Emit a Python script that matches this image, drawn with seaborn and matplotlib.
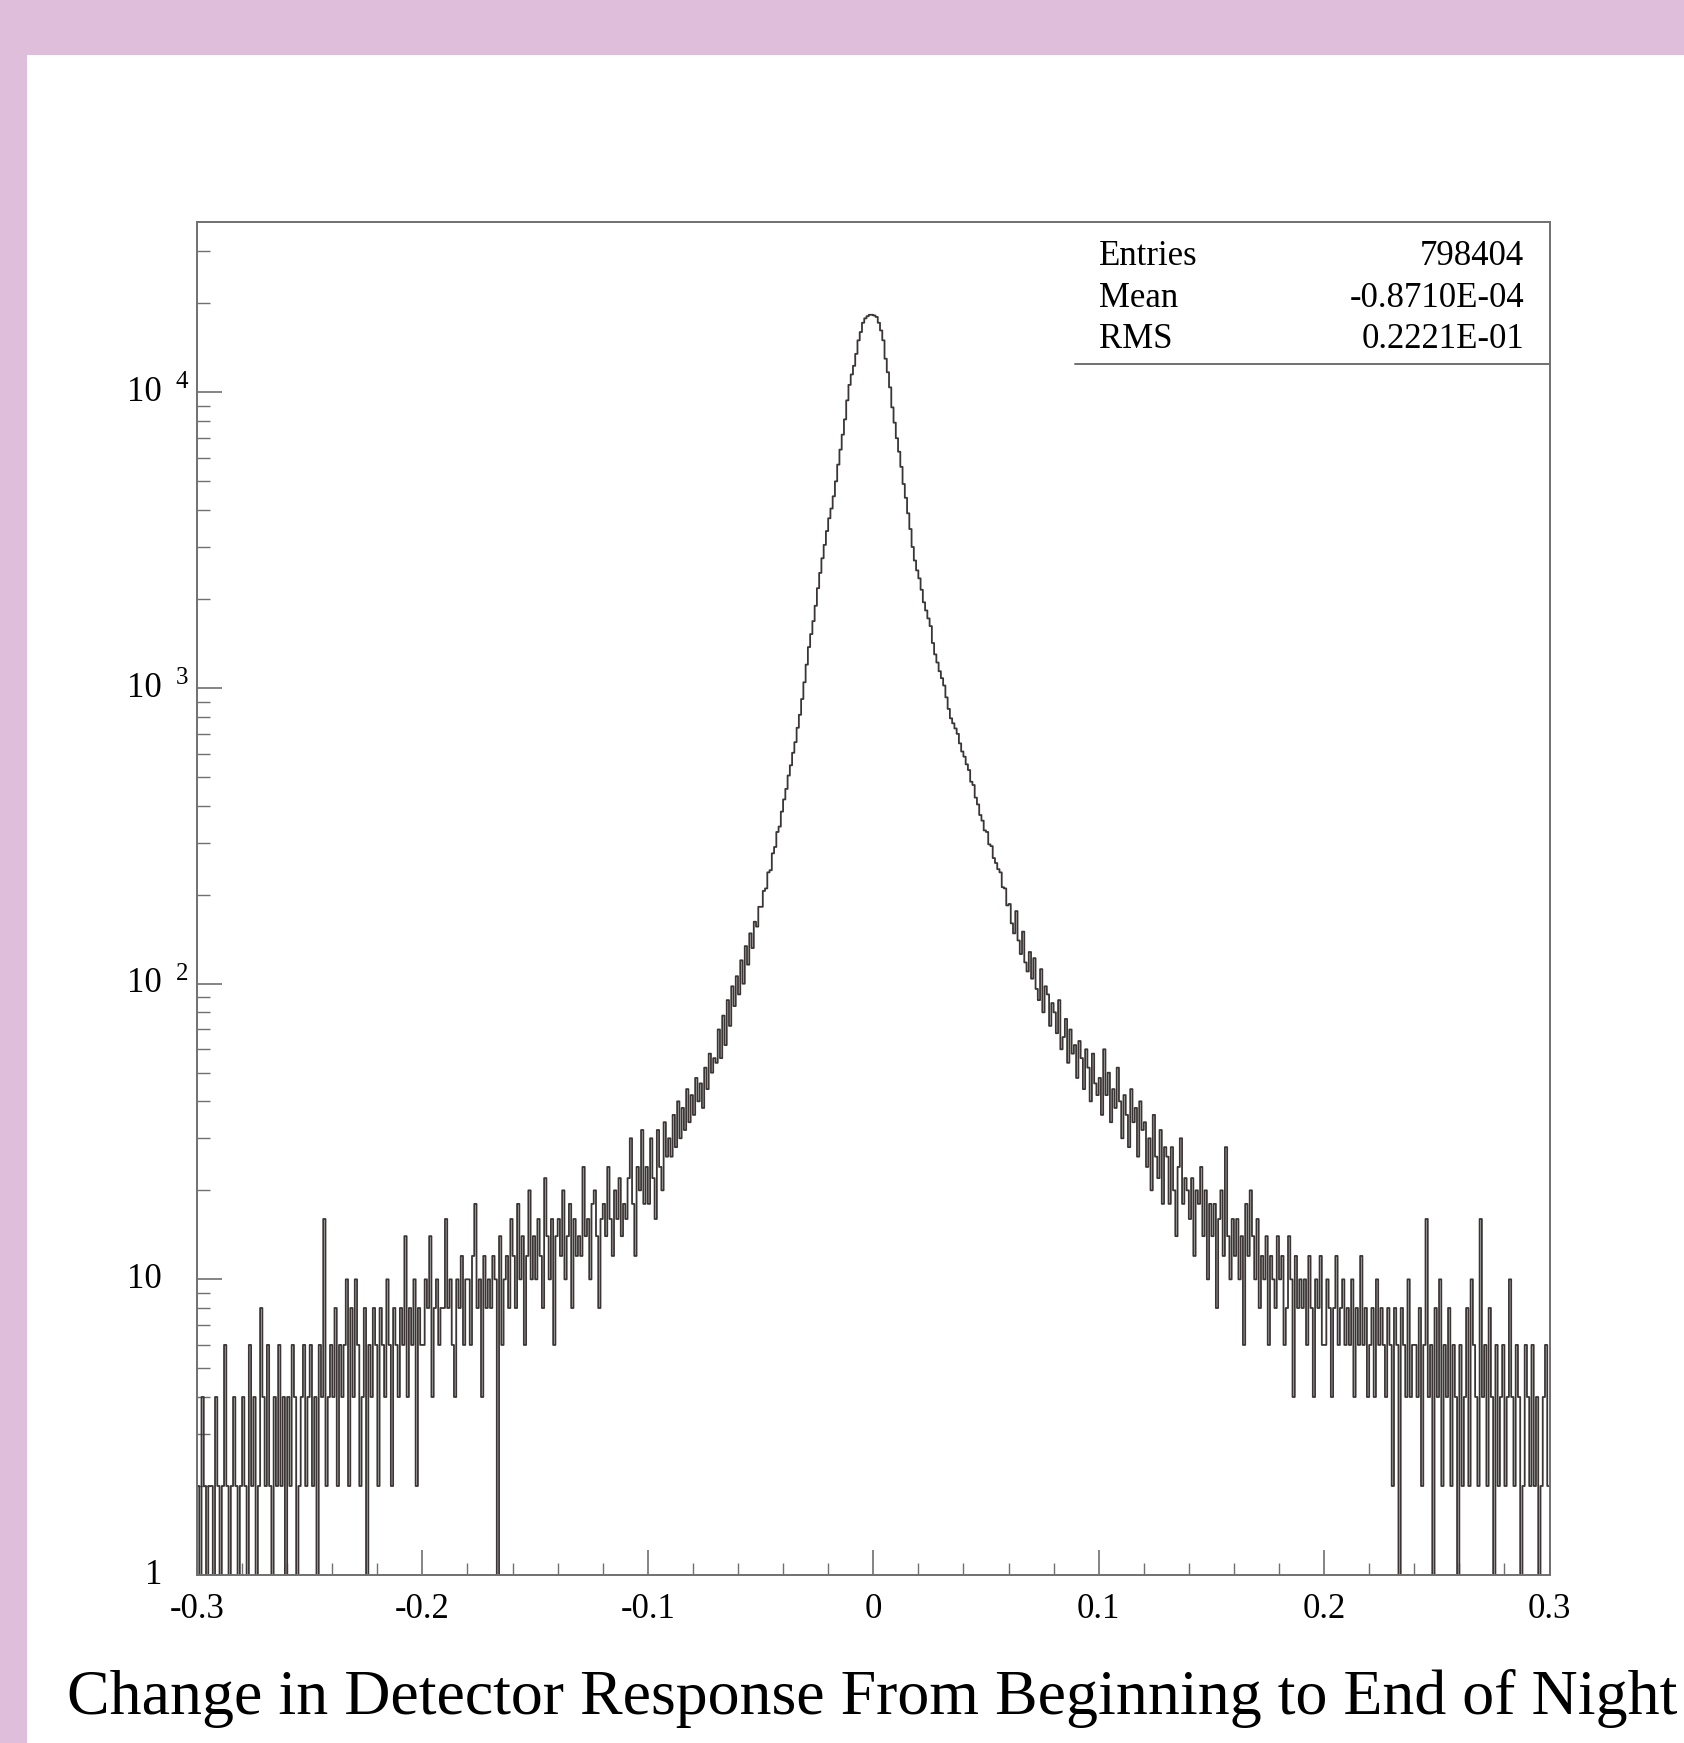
import numpy as np
import pandas as pd
import matplotlib
matplotlib.use("Agg")
import matplotlib.pyplot as plt
import matplotlib.ticker as mticker
from matplotlib.transforms import blended_transform_factory, ScaledTranslation
from matplotlib.patches import Rectangle
import seaborn as sns

# ---------------- data ----------------
x_min, x_max, n_bins = -0.3, 0.3, 600

left_tail = [
    2, 0, 4, 2, 0, 2, 2, 0, 4, 2,
    0, 2, 6, 2, 0, 2, 4, 2, 0, 2,
    4, 2, 0, 6, 2, 4, 0, 2, 8, 4,
    2, 6, 2, 0, 4, 2, 6, 2, 4, 0,
    4, 2, 6, 4, 0, 2, 4, 6, 2, 4,
    6, 2, 4, 0, 6, 4, 16, 2, 4, 6,
    4, 8, 2, 6, 4, 6, 10, 2, 8, 4,
    10, 6, 2, 4, 8, 0, 6, 4, 8, 6,
    2, 8, 6, 4, 10, 6, 2, 8, 6, 4,
    8, 6, 14, 4, 8, 6, 10, 2, 8, 6,
    6, 10, 8, 14, 4, 8, 10, 6, 8, 8,
    16, 8, 10, 6, 4, 10, 8, 12, 6, 10,
    10, 6, 12, 18, 8, 10, 4, 12, 8, 10,
    8, 12, 10, 0, 14, 6, 10, 12, 8, 16,
    12, 8, 18, 10, 14, 6, 12, 20, 10, 14,
    10, 16, 12, 8, 22, 14, 10, 16, 6, 14,
    16, 12, 20, 10, 14, 18, 8, 16, 12, 14,
    12, 24, 14, 16, 10, 18, 20, 14, 8, 16,
    18, 14, 24, 16, 12, 20, 16, 22, 14, 18,
    16, 22, 30, 18, 12, 24, 20, 32, 18, 24,
]

core_left = [
    18, 30, 22, 16, 32, 24, 20, 34, 26, 30,
    26, 36, 28, 40, 30, 38, 32, 44, 34, 42,
    36, 48, 40, 46, 38, 52, 44, 58, 50, 56,
    54, 70, 56, 78, 62, 88, 72, 98, 84, 106,
    92, 120, 100, 134, 116, 148, 132, 162, 156, 182,
    182, 206, 210, 238, 242, 276, 290, 326, 340, 382,
    420, 456, 506, 548, 604, 656, 734, 812, 918, 1046,
    1200, 1376, 1522, 1684, 1898, 2176, 2452, 2748, 3050, 3396,
    3752, 4048, 4452, 5002, 5698, 6404, 7196, 8104, 9398, 10602,
    11500, 12300, 13500, 15000, 16000, 17200, 17800, 18100, 18300, 18300,
]

core_right = [
    18200, 18000, 17200, 16200, 15000, 13000, 11700, 10400, 8900, 7900,
    7000, 6300, 5600, 4900, 4400, 3900, 3450, 3000, 2700, 2500,
    2350, 2150, 1950, 1830, 1720, 1620, 1420, 1300, 1220, 1140,
    1080, 1020, 930, 850, 790, 760, 730, 700, 650, 610,
    586, 552, 528, 482, 470, 426, 404, 372, 356, 330,
    326, 296, 292, 266, 256, 244, 238, 212, 210, 184,
    186, 160, 148, 176, 140, 126, 150, 118, 110, 128,
    104, 122, 96, 88, 112, 80, 98, 92, 72, 86,
    80, 68, 88, 60, 66, 76, 54, 70, 58, 62,
    48, 64, 56, 44, 60, 52, 40, 58, 46, 42,
]

right_tail = [
    48, 36, 60, 42, 50, 34, 44, 38, 52, 40,
    30, 42, 36, 28, 44, 34, 38, 26, 40, 32,
    34, 24, 30, 20, 36, 26, 22, 32, 18, 28,
    26, 18, 28, 20, 14, 24, 30, 18, 22, 20,
    16, 22, 12, 20, 18, 24, 14, 20, 10, 18,
    14, 18, 8, 16, 20, 12, 28, 14, 10, 16,
    12, 16, 10, 14, 6, 18, 12, 20, 14, 10,
    16, 8, 12, 10, 14, 6, 12, 10, 8, 14,
    10, 12, 6, 8, 14, 10, 4, 12, 8, 10,
    8, 10, 6, 12, 8, 4, 10, 8, 12, 6,
    6, 10, 8, 4, 8, 12, 6, 8, 10, 6,
    8, 6, 10, 4, 8, 6, 12, 6, 8, 4,
    6, 8, 4, 10, 6, 8, 6, 4, 8, 6,
    2, 8, 6, 0, 8, 6, 4, 10, 4, 6,
    6, 4, 8, 2, 6, 16, 4, 6, 0, 8,
    4, 10, 2, 6, 4, 8, 2, 6, 4, 0,
    6, 2, 4, 8, 2, 10, 6, 4, 2, 16,
    4, 6, 2, 8, 4, 0, 6, 2, 4, 6,
    2, 4, 10, 4, 2, 6, 4, 0, 2, 6,
    4, 2, 6, 2, 4, 0, 2, 4, 6, 2,
]

x_tick_values = [-0.3, -0.2, -0.1, 0.0, 0.1, 0.2, 0.3]
x_tick_labels = ["-0.3", "-0.2", "-0.1", "0", "0.1", "0.2", "0.3"]
y_decades = [1, 10, 100, 1000, 10000]
y_bases = ["1", "10", "10", "10", "10"]
y_exps = ["", "", "2", "3", "4"]
stats_names = ["Entries", "Mean", "RMS"]
stats_values = ["798404", "-0.8710E-04", "0.2221E-01"]
x_title = "Change in Detector Response From Beginning to End of Night"

# ---------------- build table ----------------
counts = np.array(left_tail + core_left + core_right + right_tail, dtype=float)
edges = np.linspace(x_min, x_max, n_bins + 1)
centers = 0.5 * (edges[:-1] + edges[1:])
df = pd.DataFrame({"x": centers, "w": counts})

# ---------------- style ----------------
sns.set_style("ticks")
plt.rcParams["font.family"] = ["Liberation Serif", "DejaVu Serif"]
plt.rcParams["text.color"] = "black"

W, H = 1684, 1743
pink = "#dfbedc"
axis_col = "#707070"
line_col = "#3b3535"

fig = plt.figure(figsize=(W / 100, H / 100), dpi=100, facecolor=pink)
fig.patches.append(Rectangle((27 / W, 0), 1 - 27 / W, 1 - 55 / H,
                             transform=fig.transFigure, facecolor="white",
                             edgecolor="none", zorder=-10))

ax_l, ax_r, ax_t, ax_b = 197, 1549.5, 222, 1575
ax = fig.add_axes([ax_l / W, 1 - ax_b / H, (ax_r - ax_l) / W, (ax_b - ax_t) / H])
ax.set_zorder(5)
ax.set_facecolor("white")

sns.histplot(data=df, x="x", weights="w", bins=n_bins, binrange=(x_min, x_max),
             element="step", fill=False, color=line_col, linewidth=1.3, ax=ax)
ax.set_yscale("log")
ax.set_xlim(x_min, x_max)
ax.set_ylim(1, 3.77e4)
ax.set_xlabel("")
ax.set_ylabel("")

for s in ax.spines.values():
    s.set_color(axis_col)
    s.set_linewidth(1.4)

# x ticks
ax.set_xticks(x_tick_values, labels=x_tick_labels)
ax.xaxis.set_minor_locator(mticker.MultipleLocator(0.02))
ax.tick_params(axis="x", which="major", direction="in", length=18, width=1.2,
               color=axis_col, labelsize=25, pad=13, labelcolor="black",
               top=False)
ax.tick_params(axis="x", which="minor", direction="in", length=8.5, width=1.0,
               color=axis_col, top=False)

# y ticks
ax.yaxis.set_major_locator(mticker.FixedLocator(y_decades))
ax.yaxis.set_minor_locator(mticker.LogLocator(base=10, subs=np.arange(2, 10)))
ax.yaxis.set_major_formatter(mticker.NullFormatter())
ax.yaxis.set_minor_formatter(mticker.NullFormatter())
ax.tick_params(axis="y", which="major", direction="in", length=18, width=1.2,
               color=axis_col, right=False)
ax.tick_params(axis="y", which="minor", direction="in", length=9, width=1.0,
               color=axis_col, right=False)

ytrans = blended_transform_factory(ax.transAxes, ax.transData)
base_x = (162 - ax_l) / (ax_r - ax_l)
exp_x = (176 - ax_l) / (ax_r - ax_l)
for val, b, e in zip(y_decades, y_bases, y_exps):
    ax.text(base_x, val, b, transform=ytrans, ha="right", va="center",
            fontsize=25, clip_on=False)
    if e:
        ax.text(exp_x, val, e, ha="left", va="center", fontsize=18,
                transform=ytrans + ScaledTranslation(0, 0.10, fig.dpi_scale_trans),
                clip_on=False)

# statistics box
span = ax_b - ax_t
row_base = [265, 307, 348]
name_x = (1099 - ax_l) / (ax_r - ax_l)
val_x = (1524 - ax_l) / (ax_r - ax_l)
for yb, n, v in zip(row_base, stats_names, stats_values):
    yy = 1 - (yb - ax_t) / span
    ax.text(name_x, yy, n, transform=ax.transAxes, ha="left", va="baseline", fontsize=25)
    ax.text(val_x, yy, v, transform=ax.transAxes, ha="right", va="baseline", fontsize=25)
line_y = 1 - (364 - ax_t) / span
ax.plot([(1075 - ax_l) / (ax_r - ax_l), 1.0], [line_y, line_y],
        transform=ax.transAxes, color=axis_col, lw=1.4, clip_on=False)
ax.set_xlim(x_min, x_max)
ax.set_ylim(1, 3.77e4)

fig.text(872 / W, 1 - 1698 / H, x_title, ha="center", va="center",
         fontsize=46, color="black")

fig.savefig("out.png", dpi=100, facecolor=pink)
